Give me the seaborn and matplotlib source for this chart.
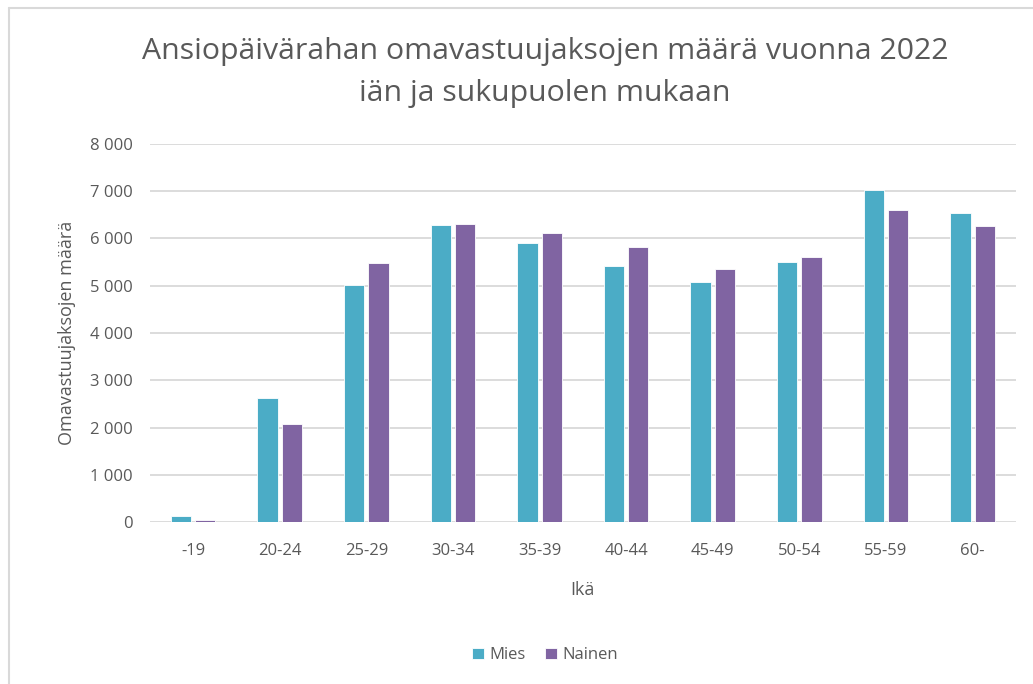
import pandas as pd
import matplotlib.pyplot as plt
import seaborn as sns
from matplotlib.lines import Line2D
from matplotlib.ticker import FuncFormatter

# Data
age_groups = ['-19', '20-24', '25-29', '30-34', '35-39', '40-44', '45-49', '50-54', '55-59', '60-']
mies = [120, 2620, 5020, 6280, 5910, 5410, 5070, 5510, 7020, 6540]
nainen = [50, 2065, 5490, 6300, 6120, 5810, 5365, 5600, 6600, 6255]

df = pd.DataFrame({'ika': age_groups * 2,
                   'maara': mies + nainen,
                   'sukupuoli': ['Mies'] * len(mies) + ['Nainen'] * len(nainen)})

sns.set_theme(style="white")
plt.rcParams['font.family'] = ['Open Sans', 'DejaVu Sans']
grey = '#595959'

fig = plt.figure(figsize=(10.33, 6.84), dpi=100)
ax = fig.add_axes([0.145, 0.2368, 0.8385, 0.5527])

sns.barplot(data=df, x='ika', y='maara', hue='sukupuoli', order=age_groups,
            palette={'Mies': '#4BACC6', 'Nainen': '#8064A2'}, saturation=1,
            width=0.56, gap=0.16, edgecolor='white', linewidth=0.6, ax=ax, zorder=3)

ax.set_ylim(0, 8000)
ax.set_xlim(-0.5, len(age_groups) - 0.5)
ax.set_yticks(range(0, 8001, 1000))
ax.yaxis.set_major_formatter(FuncFormatter(lambda v, p: f'{int(v):,}'.replace(',', ' ')))
ax.grid(axis='y', color='#D9D9D9', linewidth=1.3, zorder=0)
for s in ax.spines.values():
    s.set_visible(False)
ax.tick_params(axis='both', length=0, labelsize=12, labelcolor=grey)
ax.tick_params(axis='x', pad=15)
ax.tick_params(axis='y', pad=12)

ax.set_xlabel('Ikä', fontsize=13, color=grey, labelpad=16)
ax.set_ylabel('Omavastuujaksojen määrä', fontsize=13, color=grey, labelpad=10)

fig.text(0.5275, 0.894, 'Ansiopäivärahan omavastuujaksojen määrä vuonna 2022\niän ja sukupuolen mukaan',
         ha='center', va='center', fontsize=21.8, color=grey, linespacing=1.55)

ax.legend(loc='center', bbox_to_anchor=(0.5275, 0.042), bbox_transform=fig.transFigure,
          ncol=2, frameon=False, fontsize=12, labelcolor=grey,
          handlelength=0.7, handleheight=0.7, handletextpad=0.3, columnspacing=1.2)

# light frame at the top and left edge like in the original
fig.add_artist(Line2D([9 / 1033, 1], [1 - 8 / 684, 1 - 8 / 684], color='#D9D9D9', linewidth=1.5))
fig.add_artist(Line2D([9 / 1033, 9 / 1033], [0, 1 - 8 / 684], color='#D9D9D9', linewidth=1.5))

plt.savefig('out.png', dpi=100, facecolor='white')
